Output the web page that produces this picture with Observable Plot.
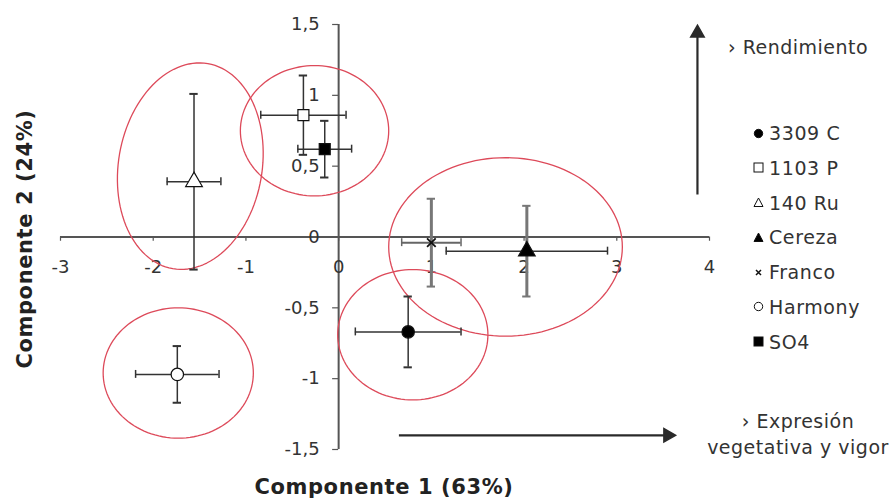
<!DOCTYPE html>
<html>
<head>
<meta charset="utf-8">
<script src="https://cdn.jsdelivr.net/npm/d3@7"></script>
<script src="https://cdn.jsdelivr.net/npm/@observablehq/plot@0.6"></script>
<style>
  body { margin: 0; background: #fff; font-family: "DejaVu Sans", Verdana, sans-serif; color: #333; }
  #wrap { position: relative; width: 891px; height: 499px; overflow: hidden; }
  #wrap > svg { position: absolute; left: 0; top: 0; }
  .ov { position: absolute; white-space: nowrap; }
  .title { font-weight: bold; font-size: 21px; letter-spacing: 0.6px; color: #222; }
  .leg { font-size: 19px; letter-spacing: 0.6px; color: #333; }
  .leg div { height: 34.8px; line-height: 34.8px; }
  #wrap .leg svg { position: static; vertical-align: middle; margin-right: 5px; margin-top: -3px; }
  .note { font-size: 19px; letter-spacing: 0.5px; color: #333; text-align: center; }
</style>
</head>
<body>
<div id="wrap"></div>
<script>
// ---- data ----
const names   = ["3309 C", "1103 P", "140 Ru", "Cereza", "Franco", "Harmony", "SO4"];
const comp1   = [0.75, -0.38, -1.56, 2.03, 1.00, -1.74, -0.15];
const comp2   = [-0.67, 0.86, 0.39, -0.10, -0.04, -0.97, 0.62];
const errC1   = [0.57, 0.46, 0.29, 0.87, 0.32, 0.45, 0.29];
const errC2   = [0.25, 0.28, 0.62, 0.32, 0.31, 0.20, 0.20];
const symbols = ["circle", "square", "triangle", "triangle", "times", "circle", "square"];
const fills   = ["black", "white", "white", "black", "black", "white", "black"];

// grouping ellipses (centre, radii in axis units)
const ellCx = [-1.60, -0.26, 1.80, 0.80, -1.73];
const ellCy = [0.50, 0.75, -0.07, -0.69, -0.96];
const ellRx = [0.79, 0.80, 1.26, 0.81, 0.81];
const ellRy = [0.72, 0.46, 0.63, 0.46, 0.46];
const ellRot = [0.12, 0, 0, 0, 0];

const xTicks = [-3, -2, -1, 0, 1, 2, 3, 4];
const xTickLabels = ["-3", "-2", "-1", "0", "1", "2", "3", "4"];
const yTicks = [-1.5, -1, -0.5, 0, 0.5, 1, 1.5];
const yTickLabels = ["-1,5", "-1", "-0,5", "0", "0,5", "1", "1,5"];

const xTitle = "Componente 1 (63%)";
const yTitle = "Componente 2 (24%)";
const upNote = "› Rendimiento";
const rightNote = ["› Expresión", "vegetativa y vigor"];

// ---- build rows ----
const rows = names.map((n, i) => ({
  name: n, x: comp1[i], y: comp2[i], ex: errC1[i], ey: errC2[i],
  sym: symbols[i], fill: fills[i],
  vStroke: (n === "Franco" || n === "Cereza") ? "#777" : "#333",
  vWidth: (n === "Franco" || n === "Cereza") ? 3 : 1.5,
  hStroke: n === "Franco" ? "#666" : "#333",
  hWidth: n === "Franco" ? 2 : 1.5
}));

const ellPts = [];
ellCx.forEach((cx, k) => {
  for (let t = 0; t <= 360; t += 3) {
    const a = t * Math.PI / 180;
    const ux = Math.cos(a) * ellRx[k], uy = Math.sin(a) * ellRy[k];
    const c = Math.cos(ellRot[k]), s = Math.sin(ellRot[k]);
    ellPts.push({k, x: cx + ux * c - uy * s * 0.65, y: ellCy[k] + ux * s * 1.5 + uy * c});
  }
});

const axisColor = "#555";
const capH = 0.028, capW = 0.045;
const arrowColor = "#2a2a2a";

const plot = Plot.plot({
  width: 891, height: 499,
  marginLeft: 60, marginRight: 182, marginTop: 24, marginBottom: 50,
  x: {domain: [-3, 4], axis: null},
  y: {domain: [-1.5, 1.5], axis: null},
  color: {type: "identity"},
  symbol: {domain: names, range: symbols},
  style: {fontFamily: "DejaVu Sans, Verdana, sans-serif", background: "transparent"},
  marks: [
    // axes through origin
    Plot.ruleY([0], {x1: -3, x2: 4, stroke: axisColor, strokeWidth: 2}),
    Plot.ruleX([0], {y1: -1.5, y2: 1.5, stroke: axisColor, strokeWidth: 2}),
    Plot.ruleX(xTicks, {x: d => d, y1: 0, y2: -0.03, stroke: axisColor, strokeWidth: 1.2}),
    Plot.ruleY(yTicks, {y: d => d, x1: -0.065, x2: 0, stroke: axisColor, strokeWidth: 1.2}),
    Plot.text(xTicks, {x: d => d, y: 0, dy: 30, text: (d, i) => xTickLabels[i], fontSize: 18, letterSpacing: 1, fill: "#333"}),
    Plot.text(yTicks, {x: 0, y: d => d, dx: -19, textAnchor: "end", text: (d, i) => yTickLabels[i], fontSize: 18, fill: "#333", style: "letter-spacing:1px"}),
    // ellipses
    Plot.line(ellPts, {x: "x", y: "y", z: "k", stroke: "#dd4a5a", strokeWidth: 1.3, curve: "linear"}),
    // error bars
    Plot.ruleY(rows, {y: "y", x1: d => d.x - d.ex, x2: d => d.x + d.ex, stroke: "hStroke", strokeWidth: "hWidth"}),
    Plot.ruleX(rows, {x: d => d.x - d.ex, y1: d => d.y - capH, y2: d => d.y + capH, stroke: "hStroke", strokeWidth: 1.5}),
    Plot.ruleX(rows, {x: d => d.x + d.ex, y1: d => d.y - capH, y2: d => d.y + capH, stroke: "hStroke", strokeWidth: 1.5}),
    Plot.ruleX(rows, {x: "x", y1: d => d.y - d.ey, y2: d => d.y + d.ey, stroke: "vStroke", strokeWidth: "vWidth"}),
    Plot.ruleY(rows, {y: d => d.y - d.ey, x1: d => d.x - capW, x2: d => d.x + capW, stroke: "vStroke", strokeWidth: 2}),
    Plot.ruleY(rows, {y: d => d.y + d.ey, x1: d => d.x - capW, x2: d => d.x + capW, stroke: "vStroke", strokeWidth: 2}),
    // points
    Plot.dot(rows.filter(d => d.sym !== "times"), {x: "x", y: "y", symbol: "name", fill: "fill", stroke: "#111", strokeWidth: 1.2, r: 6.2}),
    Plot.dot(rows.filter(d => d.sym === "times"), {x: "x", y: "y", symbol: "name", stroke: "#111", strokeWidth: 1.8, r: 4}),
    // direction arrows
    Plot.link([0], {x1: 3.87, x2: 3.87, y1: 0.30, y2: 1.44, stroke: arrowColor, strokeWidth: 2.2}),
    Plot.dot([0], {x: 3.87, y: 1.44, symbol: "triangle", r: 5, fill: arrowColor, stroke: arrowColor}),
    Plot.link([0], {x1: 0.65, x2: 3.55, y1: -1.40, y2: -1.40, stroke: arrowColor, strokeWidth: 2.2}),
    Plot.dot([0], {x: 3.55, y: -1.40, symbol: "triangle", rotate: 90, r: 5, fill: arrowColor, stroke: arrowColor})
  ]
});

const wrap = document.getElementById("wrap");
wrap.appendChild(plot);

function add(html, cls, css) {
  const d = document.createElement("div");
  d.className = "ov " + cls;
  d.innerHTML = html;
  Object.assign(d.style, css);
  wrap.appendChild(d);
  return d;
}

// axis titles
add(xTitle, "title", {left: "384px", top: "475px", transform: "translateX(-50%)"});
add(yTitle, "title", {left: "25px", top: "239px", transform: "translate(-50%,-50%) rotate(-90deg)"});

// notes
add(upNote, "note", {left: "728px", top: "36px"});
add(rightNote.join("<br>"), "note", {left: "798px", top: "408px", transform: "translateX(-50%)", lineHeight: "26px"});

// legend
const symSvg = {
  circle: f => `<svg width="11" height="11"><circle cx="5.5" cy="5.5" r="4.2" fill="${f}" stroke="#111" stroke-width="1"/></svg>`,
  square: f => `<svg width="11" height="11"><rect x="1" y="1" width="9" height="9" fill="${f}" stroke="#111" stroke-width="1"/></svg>`,
  triangle: f => `<svg width="11" height="11"><path d="M5.5 1 L10 9.5 L1 9.5 Z" fill="${f}" stroke="#111" stroke-width="1"/></svg>`,
  times: f => `<svg width="11" height="11"><path d="M3 3 L8 8 M8 3 L3 8" stroke="#111" stroke-width="1.5"/></svg>`
};
const leg = names.map((n, i) => `<div>${symSvg[symbols[i]](fills[i])}${n}</div>`).join("");
add(leg, "leg", {left: "753px", top: "116px"});
</script>
</body>
</html>
